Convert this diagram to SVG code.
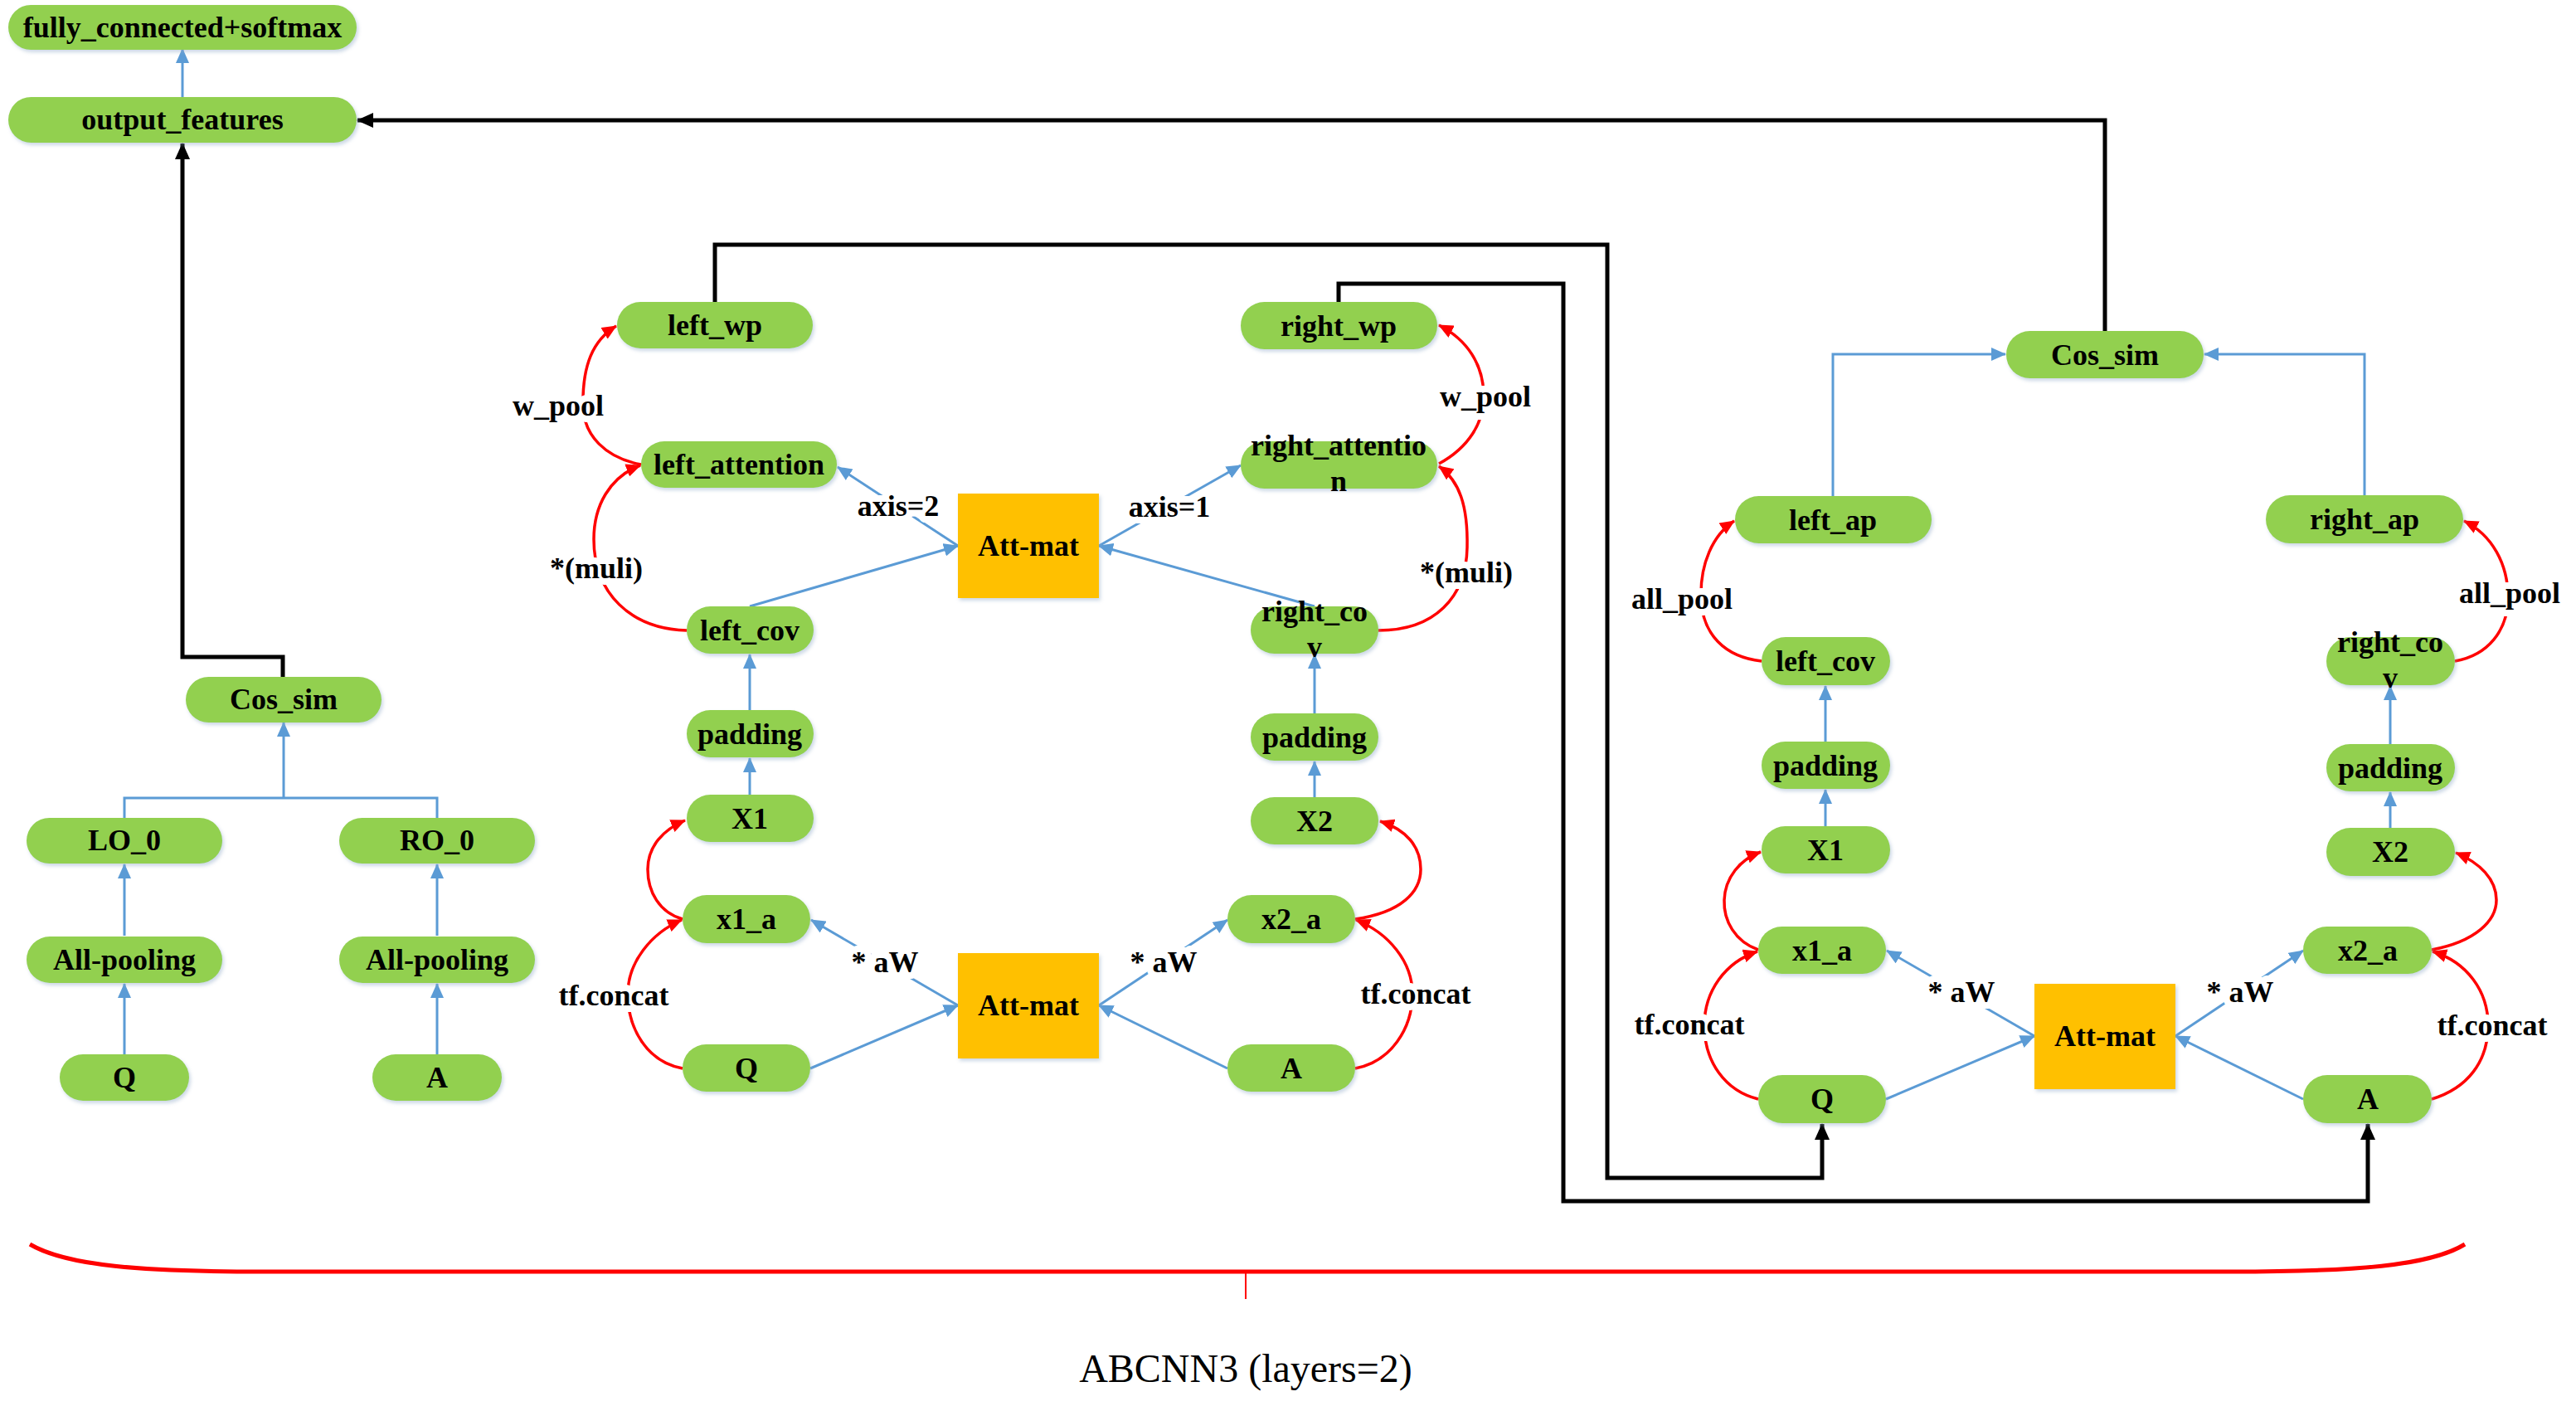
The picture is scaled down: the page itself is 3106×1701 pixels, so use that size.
<svg xmlns="http://www.w3.org/2000/svg" width="3106" height="1701" viewBox="0 0 3106 1701">
<style>
.n{fill:#92D050;filter:url(#sh)}
.o{fill:#FFC000;filter:url(#sh)}
.t{font-family:"Liberation Serif","Times New Roman",serif;font-weight:bold;font-size:36px;text-anchor:middle;fill:#000}
.l{font-family:"Liberation Serif","Times New Roman",serif;font-weight:bold;font-size:36px;text-anchor:middle;fill:#000;stroke:#fff;stroke-width:16px;stroke-linejoin:round;paint-order:stroke}
.b{fill:none;stroke:#5B9BD5;stroke-width:3;marker-end:url(#ab)}
.bn{fill:none;stroke:#5B9BD5;stroke-width:3}
.r{fill:none;stroke:#FF0000;stroke-width:3.5;marker-end:url(#ar)}
.k{fill:none;stroke:#000;stroke-width:5;stroke-linejoin:miter;marker-end:url(#ak)}
</style>
<defs>
<filter id="sh" x="-10%" y="-20%" width="125%" height="150%">
<feDropShadow dx="2" dy="3" stdDeviation="2" flood-color="#8fa9c8" flood-opacity="0.45"/>
</filter>
<marker id="ab" markerUnits="userSpaceOnUse" markerWidth="18" markerHeight="16" refX="17" refY="8" orient="auto"><path d="M0,0 L18,8 L0,16 z" fill="#5B9BD5"/></marker>
<marker id="ar" markerUnits="userSpaceOnUse" markerWidth="18" markerHeight="16" refX="17" refY="8" orient="auto"><path d="M0,0 L18,8 L0,16 z" fill="#FF0000"/></marker>
<marker id="ak" markerUnits="userSpaceOnUse" markerWidth="20" markerHeight="18" refX="19" refY="9" orient="auto"><path d="M0,0 L20,9 L0,18 z" fill="#000"/></marker>
</defs>
<rect width="3106" height="1701" fill="#fff"/>

<g id="connectors">
<!-- blue, left column -->
<path class="b" d="M220 117 V59"/>
<path class="bn" d="M150 987 V962 H527 V987"/>
<path class="b" d="M342 962 V871"/>
<path class="b" d="M150 1128 V1042"/>
<path class="b" d="M150 1271 V1186"/>
<path class="b" d="M527 1128 V1042"/>
<path class="b" d="M527 1271 V1186"/>
<!-- blue, middle -->
<path class="b" d="M904 857 V789"/>
<path class="b" d="M904 958 V914"/>
<path class="b" d="M904 731 L1155 658"/>
<path class="b" d="M1155 658 L1010 563"/>
<path class="b" d="M1585 860 V789"/>
<path class="b" d="M1585 961 V918"/>
<path class="b" d="M1585 731 L1325 658"/>
<path class="b" d="M1325 658 L1496 561"/>
<path class="b" d="M1155 1212 L978 1109"/>
<path class="b" d="M977 1288 L1155 1212"/>
<path class="b" d="M1325 1212 L1480 1109"/>
<path class="b" d="M1480 1288 L1325 1212"/>
<!-- blue, right -->
<path class="b" d="M2210 598 V427 H2418"/>
<path class="b" d="M2851 597 V427 H2658"/>
<path class="b" d="M2201 894 V827"/>
<path class="b" d="M2201 996 V952"/>
<path class="b" d="M2882 897 V827"/>
<path class="b" d="M2882 998 V955"/>
<path class="b" d="M2453 1249 L2275 1146"/>
<path class="b" d="M2274 1325 L2453 1249"/>
<path class="b" d="M2623 1249 L2777 1146"/>
<path class="b" d="M2777 1325 L2623 1249"/>
<!-- red -->
<path class="r" d="M828 760 C760 758 716 715 716 650 C716 610 735 575 772 561"/>
<path class="r" d="M773 560 C730 552 704 525 703 490 C702 440 715 410 743 393"/>
<path class="r" d="M1662 760 C1730 760 1768 720 1769 660 C1770 610 1760 580 1735 562"/>
<path class="r" d="M1735 559 C1770 540 1790 510 1789 475 C1788 440 1770 410 1735 392"/>
<path class="r" d="M823 1288 C780 1280 757 1240 757 1198 C757 1160 785 1125 822 1109"/>
<path class="r" d="M823 1108 C795 1100 781 1075 781 1048 C781 1020 800 1000 826 989"/>
<path class="r" d="M1634 1288 C1677 1280 1703 1240 1703 1198 C1703 1160 1675 1125 1635 1109"/>
<path class="r" d="M1634 1108 C1690 1100 1713 1075 1713 1048 C1713 1020 1695 1000 1664 990"/>
<path class="r" d="M2124 797 C2080 792 2052 765 2051 720 C2050 680 2065 645 2091 628"/>
<path class="r" d="M2120 1325 C2080 1315 2055 1280 2055 1236 C2055 1195 2080 1160 2119 1147"/>
<path class="r" d="M2120 1145 C2092 1135 2078 1110 2079 1085 C2080 1058 2098 1036 2123 1027"/>
<path class="r" d="M2960 797 C3000 790 3024 760 3024 720 C3024 680 3005 645 2971 628"/>
<path class="r" d="M2932 1325 C2975 1312 3000 1280 3000 1236 C3000 1195 2975 1160 2933 1147"/>
<path class="r" d="M2932 1145 C2985 1135 3010 1110 3010 1085 C3010 1060 2990 1040 2961 1028"/>
<!-- black -->
<path class="k" d="M2538 400 V145 H431"/>
<path class="k" d="M341 816 V792 H220 V173"/>
<path class="k" d="M862 364 V295 H1938 V1420 H2197 V1355"/>
<path class="k" d="M1614 364 V342 H1885 V1448 H2855 V1355"/>
<!-- labels -->
<text class="l" x="673" y="501">w_pool</text>
<text class="l" x="719" y="697">*(muli)</text>
<text class="l" x="1083" y="622">axis=2</text>
<text class="l" x="1410" y="623">axis=1</text>
<text class="l" x="1791" y="490">w_pool</text>
<text class="l" x="1768" y="702">*(muli)</text>
<text class="l" x="740" y="1212">tf.concat</text>
<text class="l" x="1067" y="1172">* aW</text>
<text class="l" x="1403" y="1172">* aW</text>
<text class="l" x="1707" y="1210">tf.concat</text>
<text class="l" x="2028" y="734">all_pool</text>
<text class="l" x="3026" y="727">all_pool</text>
<text class="l" x="2037" y="1247">tf.concat</text>
<text class="l" x="2365" y="1208">* aW</text>
<text class="l" x="2701" y="1208">* aW</text>
<text class="l" x="3005" y="1248">tf.concat</text>
</g>

<!-- left column -->
<g id="fc"><rect class="n" x="10" y="6" width="420" height="54" rx="27"/><text class="t" x="220" y="45">fully_connected+softmax</text></g>
<g id="output_features"><rect class="n" x="10" y="117" width="420" height="55" rx="27.5"/><text class="t" x="220" y="156">output_features</text></g>
<g id="cos_sim_l"><rect class="n" x="224" y="816" width="236" height="55" rx="27.5"/><text class="t" x="342" y="855">Cos_sim</text></g>
<g id="lo_0"><rect class="n" x="32" y="986" width="236" height="55" rx="27.5"/><text class="t" x="150" y="1025">LO_0</text></g>
<g id="ro_0"><rect class="n" x="409" y="986" width="236" height="55" rx="27.5"/><text class="t" x="527" y="1025">RO_0</text></g>
<g id="allpool_l"><rect class="n" x="32" y="1129" width="236" height="56" rx="28"/><text class="t" x="150" y="1169">All-pooling</text></g>
<g id="allpool_r"><rect class="n" x="409" y="1129" width="236" height="56" rx="28"/><text class="t" x="527" y="1169">All-pooling</text></g>
<g id="q0"><rect class="n" x="72" y="1271" width="156" height="56" rx="28"/><text class="t" x="150" y="1311">Q</text></g>
<g id="a0"><rect class="n" x="449" y="1271" width="156" height="56" rx="28"/><text class="t" x="527" y="1311">A</text></g>

<!-- middle section -->
<g id="left_wp"><rect class="n" x="744" y="364" width="236" height="56" rx="28"/><text class="t" x="862" y="404">left_wp</text></g>
<g id="left_attention"><rect class="n" x="773" y="532" width="236" height="56" rx="28"/><text class="t" x="891" y="572">left_attention</text></g>
<g id="left_cov1"><rect class="n" x="828" y="731" width="153" height="57" rx="28.5"/><text class="t" x="904" y="772">left_cov</text></g>
<g id="padding1l"><rect class="n" x="828" y="856" width="153" height="57" rx="28.5"/><text class="t" x="904" y="897">padding</text></g>
<g id="x1_1"><rect class="n" x="828" y="958" width="153" height="57" rx="28.5"/><text class="t" x="904" y="999">X1</text></g>
<g id="x1_a1"><rect class="n" x="823" y="1079" width="154" height="58" rx="29"/><text class="t" x="900" y="1120">x1_a</text></g>
<g id="q1"><rect class="n" x="823" y="1259" width="154" height="57" rx="28.5"/><text class="t" x="900" y="1300">Q</text></g>
<g id="attmat1"><rect class="o" x="1155" y="595" width="170" height="126"/><text class="t" x="1240" y="670">Att-mat</text></g>
<g id="attmat2"><rect class="o" x="1155" y="1149" width="170" height="127"/><text class="t" x="1240" y="1224">Att-mat</text></g>
<g id="right_wp"><rect class="n" x="1496" y="364" width="237" height="57" rx="28.5"/><text class="t" x="1614" y="405">right_wp</text></g>
<g id="right_attention"><rect class="n" x="1496" y="532" width="237" height="57" rx="28.5"/><text class="t" x="1614" y="549">right_attentio</text><text class="t" x="1614" y="592">n</text></g>
<g id="right_cov1"><rect class="n" x="1508" y="731" width="154" height="57" rx="28.5"/><text class="t" x="1585" y="749">right_co</text><text class="t" x="1585" y="792">v</text></g>
<g id="padding1r"><rect class="n" x="1508" y="860" width="154" height="57" rx="28.5"/><text class="t" x="1585" y="901">padding</text></g>
<g id="x2_1"><rect class="n" x="1508" y="961" width="154" height="57" rx="28.5"/><text class="t" x="1585" y="1002">X2</text></g>
<g id="x2_a1"><rect class="n" x="1480" y="1079" width="154" height="58" rx="29"/><text class="t" x="1557" y="1120">x2_a</text></g>
<g id="a1"><rect class="n" x="1480" y="1259" width="154" height="57" rx="28.5"/><text class="t" x="1557" y="1300">A</text></g>

<!-- right section -->
<g id="cos_sim_r"><rect class="n" x="2419" y="399" width="238" height="57" rx="28.5"/><text class="t" x="2538" y="440">Cos_sim</text></g>
<g id="left_ap"><rect class="n" x="2092" y="598" width="237" height="57" rx="28.5"/><text class="t" x="2210" y="639">left_ap</text></g>
<g id="right_ap"><rect class="n" x="2732" y="597" width="238" height="58" rx="29"/><text class="t" x="2851" y="638">right_ap</text></g>
<g id="left_cov2"><rect class="n" x="2124" y="768" width="155" height="58" rx="29"/><text class="t" x="2201" y="809">left_cov</text></g>
<g id="padding2l"><rect class="n" x="2124" y="894" width="155" height="57" rx="28.5"/><text class="t" x="2201" y="935">padding</text></g>
<g id="x1_2"><rect class="n" x="2124" y="996" width="155" height="57" rx="28.5"/><text class="t" x="2201" y="1037">X1</text></g>
<g id="x1_a2"><rect class="n" x="2120" y="1117" width="154" height="57" rx="28.5"/><text class="t" x="2197" y="1158">x1_a</text></g>
<g id="q2"><rect class="n" x="2120" y="1296" width="154" height="58" rx="29"/><text class="t" x="2197" y="1337">Q</text></g>
<g id="attmat3"><rect class="o" x="2453" y="1186" width="170" height="127"/><text class="t" x="2538" y="1261">Att-mat</text></g>
<g id="right_cov2"><rect class="n" x="2805" y="768" width="155" height="58" rx="29"/><text class="t" x="2882" y="786">right_co</text><text class="t" x="2882" y="829">v</text></g>
<g id="padding2r"><rect class="n" x="2805" y="897" width="155" height="57" rx="28.5"/><text class="t" x="2882" y="938">padding</text></g>
<g id="x2_2"><rect class="n" x="2805" y="998" width="155" height="58" rx="29"/><text class="t" x="2882" y="1039">X2</text></g>
<g id="x2_a2"><rect class="n" x="2777" y="1117" width="155" height="57" rx="28.5"/><text class="t" x="2855" y="1158">x2_a</text></g>
<g id="a2"><rect class="n" x="2777" y="1296" width="155" height="58" rx="29"/><text class="t" x="2855" y="1337">A</text></g>

<!-- brace and caption -->
<g id="brace">
<path d="M36 1500 C80 1526 170 1533 320 1533 H2690 C2840 1533 2930 1526 2972 1500" fill="none" stroke="#FF0000" stroke-width="5"/>
<path d="M1502 1533 V1566" fill="none" stroke="#FF0000" stroke-width="2"/>
<text x="1502" y="1666" font-family="Liberation Serif, Times New Roman, serif" font-size="48" text-anchor="middle" fill="#000">ABCNN3 (layers=2)</text>
</g>
</svg>
